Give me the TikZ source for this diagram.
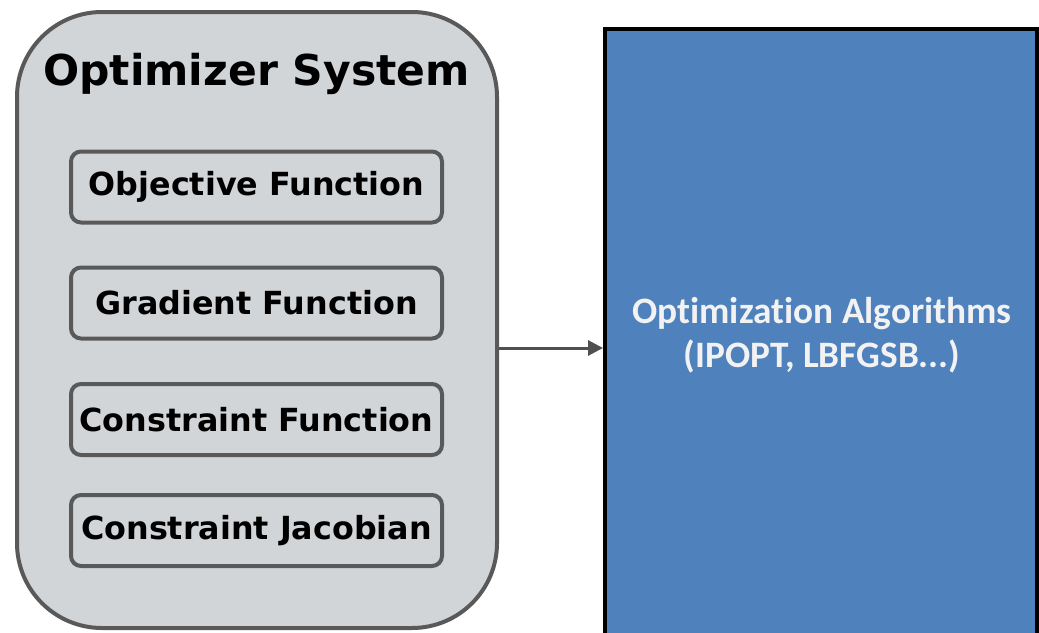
\documentclass[tikz,border=0pt]{standalone}
\usepackage{fontspec}
\usetikzlibrary{arrows.meta}
\newfontfamily\dejafont{DejaVu Sans}
\newfontfamily\carlitofont[Ligatures=NoCommon]{Carlito}
\definecolor{panelfill}{HTML}{D2D5D8}
\definecolor{panelline}{HTML}{595959}
\definecolor{algoblue}{HTML}{4F81BD}
\definecolor{algotext}{HTML}{F2F2F2}
\definecolor{arrowgray}{HTML}{505050}
\tikzset{
  panel/.style={draw=panelline, line width=4pt, fill=panelfill, rounded corners=85pt,
    minimum width=480pt, minimum height=616pt, inner sep=0pt},
  funcbox/.style={draw=panelline, line width=4pt, fill=panelfill, rounded corners=10pt,
    minimum width=371pt, minimum height=71pt, inner sep=0pt,
    font=\dejafont\bfseries\fontsize{31.8}{36}\selectfont, text=black},
  titletext/.style={font=\dejafont\bfseries\fontsize{42.5}{50}\selectfont, text=black, inner sep=0pt},
  algobox/.style={draw=black, line width=4pt, fill=algoblue, minimum width=431.5pt,
    minimum height=612pt, inner sep=0pt},
  algotextstyle/.style={font=\carlitofont\bfseries\fontsize{37.3}{44}\selectfont, text=algotext,
    align=center, inner sep=0pt},
  conn/.style={draw=arrowgray, line width=3pt, -{Triangle[length=15pt,width=15pt]}}
}
\begin{document}
\begin{tikzpicture}[x=1pt,y=-1pt]
\useasboundingbox (0,0) rectangle (1039,632);
\fill[white] (0,0) rectangle (1039,632);
\node[panel] (outer) at (257,320) {};
\node[titletext] (title) at (256.5,74) {Optimizer System};
\node[funcbox] (obj) at (256.5,187) {Objective Function};
\node[funcbox] (grad) at (256.5,303) {Gradient Function};
\node[funcbox] (cfun) at (256.5,419.5) {Constraint Function};
\node[funcbox] (cjac) at (256.5,530.5) {Constraint Jacobian};
\node[algobox] (algo) at (820.75,334.5) {};
\node[algotextstyle] (algolabel) at (822,335) {Optimization Algorithms\\(IPOPT, LBFGSB.\kern0pt.\kern0pt.)};
\coordinate (arrowy) at (0,348);
\draw[conn] (outer.east |- arrowy) -- (algo.west |- arrowy);
\end{tikzpicture}
\end{document}
